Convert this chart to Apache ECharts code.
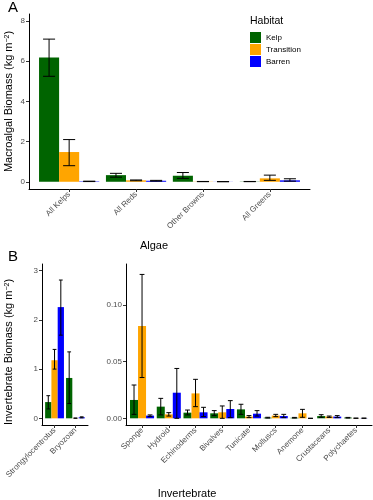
<!DOCTYPE html>
<html>
<head>
<meta charset="utf-8">
<script src="https://cdn.jsdelivr.net/npm/echarts@6/dist/echarts.min.js"></script>
<style>
html,body{margin:0;padding:0;background:#fff;}
#chart{width:373px;height:500px;}
</style>
</head>
<body>
<div id="chart"></div>
<script>
// ---------- DATA ----------
var habitats = ['Kelp', 'Transition', 'Barren'];

var algaeCats = ['All Kelps', 'All Reds', 'Other Browns', 'All Greens'];
var algaeKelp      = [6.18, 0.33, 0.30, 0.01];
var algaeKelpLo    = [5.25, 0.23, 0.17, 0.005];
var algaeKelpHi    = [7.10, 0.42, 0.46, 0.015];
var algaeTrans     = [1.48, 0.07, 0.01, 0.17];
var algaeTransLo   = [0.80, 0.05, 0.005, 0.07];
var algaeTransHi   = [2.10, 0.09, 0.015, 0.33];
var algaeBarren    = [0.02, 0.05, 0.005, 0.07];
var algaeBarrenLo  = [0.01, 0.03, 0.003, 0.03];
var algaeBarrenHi  = [0.03, 0.07, 0.008, 0.15];
var algaeTicks = [0, 2, 4, 6, 8];

var invLeftCats = ['Strongylocentrotus', 'Bryozoan'];
var invLKelp     = [0.33, 0.82];
var invLKelpLo   = [0.19, 0.30];
var invLKelpHi   = [0.46, 1.35];
var invLTrans    = [1.18, 0.003];
var invLTransLo  = [1.00, 0.001];
var invLTransHi  = [1.40, 0.005];
var invLBarren   = [2.26, 0.02];
var invLBarrenLo = [1.69, 0.01];
var invLBarrenHi = [2.81, 0.03];
var invLeftTicks = [0, 1, 2, 3];

var invRightCats = ['Sponge', 'Hydroid', 'Echinoderms', 'Bivalves', 'Tunicate', 'Molluscs', 'Anemone', 'Crustaceans', 'Polychaetes'];
var invRKelp     = [0.0162, 0.0103, 0.0050, 0.0044, 0.0079, 0.0006, 0.0005, 0.0020, 0.0006];
var invRKelpLo   = [0.0035, 0.0030, 0.0030, 0.0024, 0.0035, 0.0002, 0.0002, 0.0008, 0.0002];
var invRKelpHi   = [0.0294, 0.0176, 0.0073, 0.0068, 0.0124, 0.0009, 0.0008, 0.0032, 0.0008];
var invRTrans    = [0.0815, 0.0035, 0.0220, 0.0053, 0.0015, 0.0024, 0.0044, 0.0015, 0.0001];
var invRTransLo  = [0.0360, 0.0020, 0.0103, 0.0000, 0.0006, 0.0015, 0.0009, 0.0008, 0.0000];
var invRTransHi  = [0.1270, 0.0050, 0.0344, 0.0109, 0.0024, 0.0035, 0.0079, 0.0020, 0.0002];
var invRBarren   = [0.0024, 0.0226, 0.0053, 0.0082, 0.0041, 0.0020, 0.0000, 0.0015, 0.0001];
var invRBarrenLo = [0.0015, 0.0000, 0.0015, 0.0006, 0.0020, 0.0006, 0.0000, 0.0006, 0.0000];
var invRBarrenHi = [0.0030, 0.0440, 0.0097, 0.0156, 0.0068, 0.0035, 0.0000, 0.0024, 0.0002];
var invRightTicks = [0, 0.05, 0.10];

// ---------- STYLE ----------
var colors = {Kelp: '#006400', Transition: '#FFA500', Barren: '#0000FF'};
var FONT = '"Liberation Sans", Arial, Helvetica, sans-serif';
var TICKCOL = '#4D4D4D';
var offsets = {Kelp: -0.3, Transition: 0, Barren: 0.3};

function pack(vals, lo, hi) {
  return vals.map(function (v, i) { return [i + 1, v, lo[i], hi[i]]; });
}

function makeRender(offset) {
  return function (params, api) {
    var x = api.value(0) + offset;
    var y = api.value(1), lo = api.value(2), hi = api.value(3);
    var top = api.coord([x, y]);
    var base = api.coord([x, 0]);
    var w = api.size([0.3, 0])[0];
    var cap = api.size([0.18, 0])[0];
    var pLo = api.coord([x, lo]);
    var pHi = api.coord([x, hi]);
    var children = [{
      type: 'rect',
      shape: {x: top[0] - w / 2, y: top[1], width: w, height: Math.max(0, base[1] - top[1])},
      style: {fill: api.visual('color')}
    }];
    var ls = {stroke: '#000', lineWidth: 1, fill: null};
    children.push({type: 'line', shape: {x1: pLo[0], y1: pLo[1], x2: pHi[0], y2: pHi[1]}, style: ls});
    children.push({type: 'line', shape: {x1: pLo[0] - cap / 2, y1: pLo[1], x2: pLo[0] + cap / 2, y2: pLo[1]}, style: ls});
    children.push({type: 'line', shape: {x1: pHi[0] - cap / 2, y1: pHi[1], x2: pHi[0] + cap / 2, y2: pHi[1]}, style: ls});
    return {type: 'group', children: children};
  };
}

var panels = [
  {cats: algaeCats, ticks: algaeTicks, fmt: function (v) { return String(v); },
   data: {Kelp: pack(algaeKelp, algaeKelpLo, algaeKelpHi), Transition: pack(algaeTrans, algaeTransLo, algaeTransHi), Barren: pack(algaeBarren, algaeBarrenLo, algaeBarrenHi)},
   grid: {left: 29, top: 14, width: 281, height: 175}, ymin: -0.36, ymax: 8.35},
  {cats: invLeftCats, ticks: invLeftTicks, fmt: function (v) { return String(v); },
   data: {Kelp: pack(invLKelp, invLKelpLo, invLKelpHi), Transition: pack(invLTrans, invLTransLo, invLTransHi), Barren: pack(invLBarren, invLBarrenLo, invLBarrenHi)},
   grid: {left: 42, top: 264, width: 46, height: 161}, ymin: -0.136, ymax: 3.136},
  {cats: invRightCats, ticks: invRightTicks, fmt: function (v) { return v.toFixed(2); },
   data: {Kelp: pack(invRKelp, invRKelpLo, invRKelpHi), Transition: pack(invRTrans, invRTransLo, invRTransHi), Barren: pack(invRBarren, invRBarrenLo, invRBarrenHi)},
   grid: {left: 126, top: 264, width: 246, height: 161}, ymin: -0.0059, ymax: 0.1362}
];

var grids = [], xAxes = [], yAxes = [], series = [];
panels.forEach(function (p, gi) {
  grids.push(Object.assign({containLabel: false}, p.grid));
  var catIdx = p.cats.map(function (c, i) { return i + 1; });
  xAxes.push({
    type: 'value', gridIndex: gi, min: 0.4, max: p.cats.length + 0.6,
    splitLine: {show: false},
    axisLine: {show: true, onZero: false, lineStyle: {color: '#000', width: 1}},
    axisTick: {show: true, customValues: catIdx, length: 3, lineStyle: {color: '#333'}},
    axisLabel: {show: true, customValues: catIdx, rotate: 45, margin: 4,
      fontSize: 8, color: TICKCOL, fontFamily: FONT,
      formatter: function (v) { return p.cats[Math.round(v) - 1]; }}
  });
  yAxes.push({
    type: 'value', gridIndex: gi, min: p.ymin, max: p.ymax,
    splitLine: {show: false},
    axisLine: {show: true, onZero: false, lineStyle: {color: '#000', width: 1}},
    axisTick: {show: true, customValues: p.ticks, length: 3, lineStyle: {color: '#333'}},
    axisLabel: {show: true, customValues: p.ticks, margin: 4, fontSize: 8,
      color: TICKCOL, fontFamily: FONT, formatter: p.fmt}
  });
  habitats.forEach(function (h) {
    series.push({
      type: 'custom', name: h, xAxisIndex: gi, yAxisIndex: gi,
      itemStyle: {color: colors[h]},
      renderItem: makeRender(offsets[h]),
      encode: {x: 0, y: 1},
      data: p.data[h],
      silent: true
    });
  });
});

var chart = echarts.init(document.getElementById('chart'), null, {renderer: 'canvas'});
chart.setOption({
  animation: false,
  backgroundColor: '#fff',
  textStyle: {fontFamily: FONT},
  grid: grids,
  xAxis: xAxes,
  yAxis: yAxes,
  series: series,
  legend: {
    data: habitats, orient: 'vertical', left: 250, top: 32, padding: 0,
    itemWidth: 11, itemHeight: 11, itemGap: 1, icon: 'rect',
    selectedMode: false,
    textStyle: {fontSize: 8, color: '#000', fontFamily: FONT}
  },
  graphic: [
    {type: 'text', left: 8, top: 0, style: {text: 'A', fontSize: 15, fill: '#000', fontFamily: FONT}},
    {type: 'text', left: 8, top: 249, style: {text: 'B', fontSize: 15, fill: '#000', fontFamily: FONT}},
    {type: 'text', x: 9, y: 101.5, rotation: Math.PI / 2,
      style: {text: 'Macroalgal Biomass (kg m{sup|\u22122})', fontSize: 11, fill: '#000', fontFamily: FONT,
        align: 'center', verticalAlign: 'middle',
        rich: {sup: {fontSize: 7, fill: '#000', fontFamily: FONT, verticalAlign: 'top'}}}},
    {type: 'text', x: 9, y: 352, rotation: Math.PI / 2,
      style: {text: 'Invertebrate Biomass (kg m{sup|\u22122})', fontSize: 11, fill: '#000', fontFamily: FONT,
        align: 'center', verticalAlign: 'middle',
        rich: {sup: {fontSize: 7, fill: '#000', fontFamily: FONT, verticalAlign: 'top'}}}},
    {type: 'text', x: 154, y: 246,
      style: {text: 'Algae', fontSize: 11, fill: '#000', fontFamily: FONT, align: 'center', verticalAlign: 'middle'}},
    {type: 'text', x: 187, y: 494,
      style: {text: 'Invertebrate', fontSize: 11, fill: '#000', fontFamily: FONT, align: 'center', verticalAlign: 'middle'}},
    {type: 'text', x: 250, y: 21,
      style: {text: 'Habitat', fontSize: 10.5, fill: '#000', fontFamily: FONT, align: 'left', verticalAlign: 'middle'}}
  ]
});
</script>
</body>
</html>
